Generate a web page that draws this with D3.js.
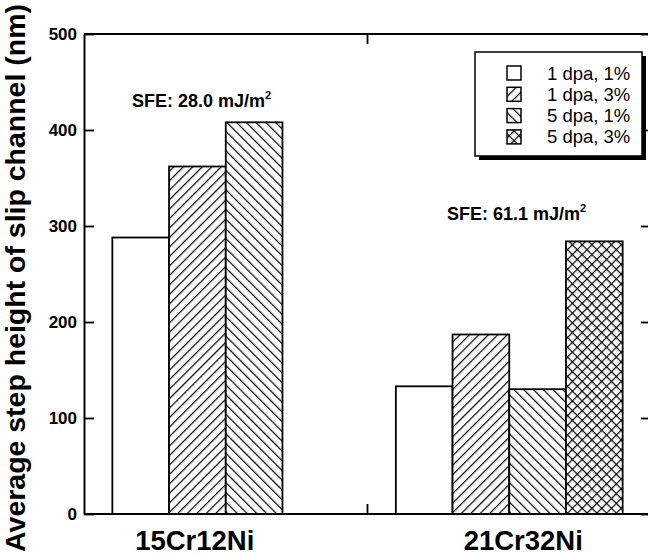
<!DOCTYPE html>
<html>
<head>
<meta charset="utf-8">
<script src="https://cdn.jsdelivr.net/npm/d3@7"></script>
<style>
  body { margin: 0; background: #fff; }
  text { font-family: "Liberation Sans", Arial, sans-serif; }
</style>
</head>
<body>
<div id="chart"></div>
<script>
// data
var categories = ["15Cr12Ni", "21Cr32Ni"];
var seriesNames = ["1 dpa, 1%", "1 dpa, 3%", "5 dpa, 1%", "5 dpa, 3%"];
var dpa1_1pct = [288, 133];
var dpa1_3pct = [362, 187];
var dpa5_1pct = [408, 130];
var dpa5_3pct = [null, 284];
var yTicks = [0, 100, 200, 300, 400, 500];
var sfeLabels = ["SFE: 28.0 mJ/m", "SFE: 61.1 mJ/m"];

var seriesValues = [dpa1_1pct, dpa1_3pct, dpa5_1pct, dpa5_3pct];
var fills = ["#fff", "url(#hatchFwd)", "url(#hatchBack)", "url(#hatchCross)"];

var W = 648, H = 556;
var margin = {top: 34, right: -3, bottom: 42, left: 84};

var svg = d3.select("#chart").append("svg")
    .attr("width", W)
    .attr("height", H);

svg.append("rect").attr("width", W).attr("height", H).attr("fill", "#fff");

// hatch patterns
var defs = svg.append("defs");
function hatch(id, angle, gap) {
  var p = defs.append("pattern")
      .attr("id", id)
      .attr("patternUnits", "userSpaceOnUse")
      .attr("width", gap).attr("height", gap)
      .attr("patternTransform", "rotate(" + angle + ")");
  p.append("rect").attr("width", gap).attr("height", gap).attr("fill", "#fff");
  p.append("line")
      .attr("x1", 0.6).attr("y1", 0).attr("x2", 0.6).attr("y2", gap)
      .attr("stroke", "#000").attr("stroke-width", 1.2);
  return p;
}
hatch("hatchFwd", 45, 6.7);
hatch("hatchBack", -45, 6.9);
var cp = hatch("hatchCross", 45, 6.9);
cp.append("line")
    .attr("x1", 0).attr("y1", 0.6).attr("x2", 6.9).attr("y2", 0.6)
    .attr("stroke", "#000").attr("stroke-width", 1.2);

var x0 = d3.scaleBand()
    .domain(categories)
    .range([margin.left, W - margin.right])
    .padding(0);

var x1 = d3.scaleBand()
    .domain(seriesNames)
    .range([0, x0.bandwidth()])
    .paddingInner(0)
    .paddingOuter(0.5);

var y = d3.scaleLinear()
    .domain([0, 500])
    .range([H - margin.bottom, margin.top]);

// bars
categories.forEach(function(cat, ci) {
  var g = svg.append("g").attr("transform", "translate(" + x0(cat) + ",0)");
  seriesNames.forEach(function(s, si) {
    var v = seriesValues[si][ci];
    if (v == null) return;
    g.append("rect")
        .attr("x", x1(s))
        .attr("y", y(v))
        .attr("width", x1.bandwidth())
        .attr("height", y(0) - y(v))
        .attr("fill", fills[si])
        .attr("stroke", "#000")
        .attr("stroke-width", 1.8);
  });
});

// left axis
svg.append("g")
    .attr("transform", "translate(" + margin.left + ",0)")
    .call(d3.axisLeft(y).tickValues(yTicks).tickSizeInner(-10).tickSizeOuter(0).tickPadding(7))
    .call(function(g) {
      g.select(".domain").attr("stroke-width", 2);
      g.selectAll(".tick line").attr("stroke-width", 1.8);
      g.selectAll(".tick text")
        .style("font-size", "17px").style("font-weight", "bold").attr("fill", "#000");
    });

// right axis (sits just outside the view)
svg.append("g")
    .attr("transform", "translate(" + (W - margin.right) + ",0)")
    .call(d3.axisRight(y).tickValues(yTicks).tickSizeInner(-10).tickSizeOuter(0).tickFormat(""))
    .call(function(g) {
      g.select(".domain").attr("stroke-width", 2);
      g.selectAll(".tick line").attr("stroke-width", 1.8);
    });

// top and bottom frame lines
svg.append("line")
    .attr("x1", margin.left).attr("x2", W - margin.right)
    .attr("y1", y(500)).attr("y2", y(500))
    .attr("stroke", "#000").attr("stroke-width", 2);
svg.append("line")
    .attr("x1", margin.left).attr("x2", W - margin.right)
    .attr("y1", y(0)).attr("y2", y(0))
    .attr("stroke", "#000").attr("stroke-width", 2);

// category separator ticks
var sepX = x0(categories[1]);
svg.append("line")
    .attr("x1", sepX).attr("x2", sepX).attr("y1", y(0)).attr("y2", y(0) - 10)
    .attr("stroke", "#000").attr("stroke-width", 1.8);
svg.append("line")
    .attr("x1", sepX).attr("x2", sepX).attr("y1", y(500)).attr("y2", y(500) + 10)
    .attr("stroke", "#000").attr("stroke-width", 1.8);

// category labels (not quite centred on their groups in the original)
var labelShift = [-31, 14];
svg.selectAll(".catLabel")
  .data(categories)
  .enter().append("text")
    .attr("class", "catLabel")
    .attr("x", function(d, i) { return x0(d) + x0.bandwidth() / 2 + labelShift[i]; })
    .attr("y", 550)
    .attr("text-anchor", "middle")
    .style("font-size", "27.5px")
    .style("font-weight", "bold")
    .text(function(d) { return d; });

// y axis title
var yTitle = svg.append("text")
    .attr("transform", "translate(25," + 278 + ") rotate(-90)")
    .attr("text-anchor", "middle")
    .style("font-size", "24px")
    .style("font-weight", "bold")
    .text("Average step height of slip channel (nm)");
var len = yTitle.node().getComputedTextLength();
yTitle.style("font-size", (24 * 548 / len) + "px");

// SFE annotations
var sfePos = [[132, 107], [447, 220]];
sfeLabels.forEach(function(t, i) {
  var tx = svg.append("text")
      .attr("x", sfePos[i][0]).attr("y", sfePos[i][1])
      .style("font-size", "18px")
      .style("font-weight", "bold");
  tx.append("tspan").text(t);
  tx.append("tspan").attr("dy", -8).style("font-size", "11px").text("2");
});

// legend
var lg = svg.append("g").attr("transform", "translate(475,52)");
var lw = 167, lh = 104;
lg.append("rect").attr("x", 4).attr("y", 4).attr("width", lw).attr("height", lh).attr("fill", "#000");
lg.append("rect").attr("width", lw).attr("height", lh)
    .attr("fill", "#fff").attr("stroke", "#000").attr("stroke-width", 1.5);
seriesNames.forEach(function(s, i) {
  var cy = 21 + i * 21.3;
  lg.append("rect")
      .attr("x", 32).attr("y", cy - 7)
      .attr("width", 14).attr("height", 14)
      .attr("fill", fills[i])
      .attr("stroke", "#000").attr("stroke-width", 1.5);
  lg.append("text")
      .attr("x", 72).attr("y", cy + 6.5)
      .style("font-size", "18.5px")
      .text(s);
});
</script>
